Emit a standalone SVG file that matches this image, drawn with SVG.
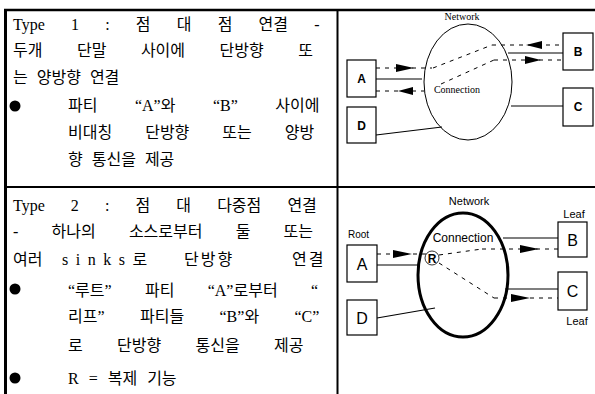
<svg xmlns="http://www.w3.org/2000/svg" width="595" height="394" viewBox="0 0 595 394">
<style>
.kt{font-family:"Liberation Serif","Noto Sans CJK KR",serif;font-size:16px;fill:#000}
.frame{stroke:#000;fill:none}
.box{fill:#fff;stroke:#000;stroke-width:1.2}
.solid{stroke:#000;stroke-width:1.2;fill:none}
.dash{stroke:#000;stroke-width:1;stroke-dasharray:4 5;fill:none}
.sl{font-family:"Liberation Serif",serif;font-size:10px;fill:#000}
.ss{font-family:"Liberation Sans",Arial,sans-serif;fill:#000}
.lbl{font-family:"Liberation Sans",Arial,sans-serif;font-weight:bold;font-size:12px;text-anchor:middle;fill:#000}
.lbl2{font-family:"Liberation Sans",Arial,sans-serif;font-size:16px;text-anchor:middle;fill:#000}
</style>
<rect width="595" height="394" fill="#fff"/>
<g id="table" class="frame">
<line x1="5.5" y1="9" x2="5.5" y2="394" stroke-width="3"/>
<line x1="4" y1="10" x2="595" y2="10" stroke-width="2.5"/>
<line x1="337.5" y1="10" x2="337.5" y2="394" stroke-width="2"/>
<line x1="4" y1="187" x2="595" y2="187" stroke-width="2"/>
</g>
<g id="text1">
<text class="kt" x="13" y="30" word-spacing="22.2">Type 1 : 점 대 점 연결 -</text>
<text class="kt" x="13" y="56" word-spacing="30.5">두개 단말 사이에 단방향 또</text>
<text class="kt" x="13" y="83" word-spacing="5">는 양방향 연결</text>
<circle cx="15" cy="106" r="5.5" fill="#000"/>
<text class="kt" x="68" y="111" word-spacing="33.5">파티 “A”와 “B” 사이에</text>
<text class="kt" x="68" y="138" word-spacing="29">비대칭 단방향 또는 양방</text>
<text class="kt" x="68" y="165" word-spacing="5">향 통신을 제공</text>
</g>
<g id="text2">
<text class="kt" x="13" y="211" word-spacing="22.1">Type 2 : 점 대 다중점 연결</text>
<text class="kt" x="13" y="237" word-spacing="29.2">- 하나의 소스로부터 둘 또는</text>
<text class="kt" y="265"><tspan x="13">여러</tspan><tspan x="62" letter-spacing="7.5">sinks</tspan><tspan>로</tspan><tspan x="184" letter-spacing="2">단방향</tspan><tspan x="292" letter-spacing="2">연결</tspan></text>
<circle cx="15" cy="289" r="5.5" fill="#000"/>
<text class="kt" x="68" y="296" word-spacing="29.3">“루트” 파티 “A”로부터 “</text>
<text class="kt" x="68" y="322" word-spacing="31.4">리프” 파티들 “B”와 “C”</text>
<text class="kt" x="68" y="351" word-spacing="30.3">로 단방향 통신을 제공</text>
<circle cx="15" cy="378" r="5.5" fill="#000"/>
<text class="kt" x="68" y="384" word-spacing="6">R = 복제 기능</text>
</g>
<!-- Diagram 1 -->
<g id="network1">
<text class="sl" x="462" y="20" text-anchor="middle">Network</text>
<ellipse cx="468" cy="82" rx="44" ry="58" fill="none" stroke="#000" stroke-width="1"/>
<text class="sl" x="457" y="93" text-anchor="middle">Connection</text>
</g>
<g id="connectors1">
<line class="solid" x1="376" y1="79" x2="422" y2="79"/>
<line class="dash" x1="376" y1="68" x2="432" y2="68"/>
<line class="dash" x1="376" y1="91" x2="424" y2="91"/>
<path d="M396,64 L414,68 L396,72 z" fill="#000"/>
<path d="M413,87 L398,91 L413,95 z" fill="#000"/>
<line class="dash" x1="433" y1="68" x2="492" y2="45"/>
<line class="dash" x1="441" y1="84" x2="494" y2="60"/>
<line class="dash" x1="492" y1="45" x2="563" y2="45"/>
<line class="dash" x1="494" y1="60" x2="563" y2="60"/>
<line class="solid" x1="508" y1="53" x2="563" y2="53"/>
<path d="M542,41 L526,45 L542,49 z" fill="#000"/>
<path d="M525,56 L541,60 L525,64 z" fill="#000"/>
<line class="solid" x1="511" y1="106" x2="563" y2="106"/>
<line class="solid" x1="376" y1="135" x2="442" y2="127"/>
</g>
<g id="A1"><rect class="box" x="347" y="60" width="29" height="37"/><text class="lbl" x="361.5" y="83">A</text></g>
<g id="B1"><rect class="box" x="563" y="33" width="30" height="37"/><text class="lbl" x="578" y="56">B</text></g>
<g id="C1"><rect class="box" x="563" y="88" width="30" height="38"/><text class="lbl" x="578" y="111">C</text></g>
<g id="D1"><rect class="box" x="347" y="107" width="29" height="36"/><text class="lbl" x="361.5" y="130">D</text></g>
<!-- Diagram 2 -->
<g id="network2">
<text class="ss" x="469" y="205" font-size="11" text-anchor="middle">Network</text>
<ellipse cx="463" cy="275" rx="45" ry="62" fill="none" stroke="#000" stroke-width="3"/>
<text class="ss" x="463" y="242" font-size="12" text-anchor="middle">Connection</text>
<circle cx="432" cy="258" r="7" fill="none" stroke="#000" stroke-width="0.8"/>
<text class="ss" x="432" y="263" font-size="12" font-weight="bold" text-anchor="middle">R</text>
</g>
<g id="connectors2">
<line class="solid" x1="377" y1="265" x2="419" y2="265"/>
<line class="dash" x1="377" y1="254" x2="426" y2="254"/>
<path d="M393,250 L412,254 L393,258 z" fill="#000"/>
<line class="dash" x1="439" y1="255" x2="482" y2="249"/>
<line class="dash" x1="482" y1="249" x2="558" y2="249"/>
<line class="solid" x1="503" y1="238" x2="558" y2="238"/>
<path d="M520,245 L539,249 L520,253 z" fill="#000"/>
<line class="dash" x1="439" y1="263" x2="494" y2="298"/>
<line class="dash" x1="494" y1="298" x2="558" y2="298"/>
<line class="solid" x1="505" y1="289" x2="558" y2="289"/>
<path d="M511,294 L530,298 L511,302 z" fill="#000"/>
<line class="solid" x1="377" y1="318" x2="435" y2="308"/>
</g>
<g id="A2"><text class="ss" x="348" y="238" font-size="10">Root</text><rect class="box" x="347" y="245" width="30" height="37"/><text class="lbl2" x="362" y="270">A</text></g>
<g id="D2"><rect class="box" x="347" y="300" width="30" height="35"/><text class="lbl2" x="362" y="324">D</text></g>
<g id="B2"><text class="ss" x="574" y="218" font-size="11" text-anchor="middle">Leaf</text><rect class="box" x="558" y="222" width="29" height="35"/><text class="lbl2" x="572.5" y="246">B</text></g>
<g id="C2"><rect class="box" x="558" y="272" width="29" height="38"/><text class="lbl2" x="572.5" y="297">C</text><text class="ss" x="577" y="325" font-size="11" text-anchor="middle">Leaf</text></g>
</svg>
